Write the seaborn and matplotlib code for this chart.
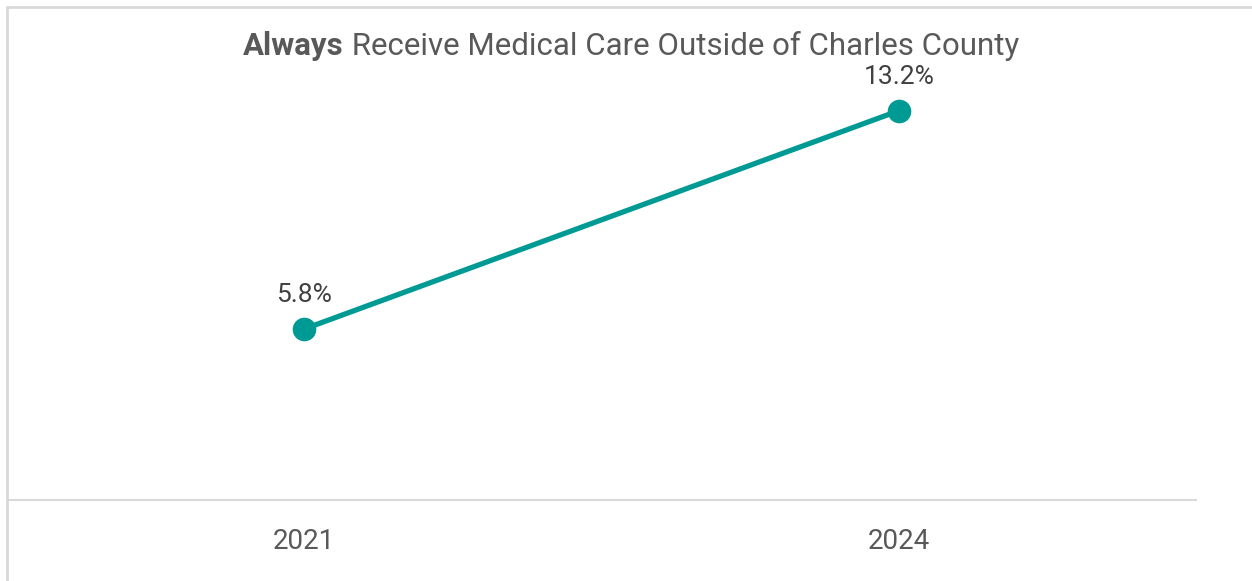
import matplotlib
matplotlib.use("Agg")
import matplotlib.pyplot as plt
from matplotlib.patches import Rectangle
import seaborn as sns
import pandas as pd

years = ["2021", "2024"]
pct_values = [5.8, 13.2]
title_bold = "Always"
title_rest = " Receive Medical Care Outside of Charles County"

TEAL = "#009A94"
DARK = "#404040"
GREY = "#595959"

sns.set_theme(style="white")
plt.rcParams["font.family"] = ["Roboto", "DejaVu Sans"]

df = pd.DataFrame({"year": years, "pct": pct_values})

fig = plt.figure(figsize=(12.52, 5.81), dpi=100)
ax = fig.add_axes([0.0056, 0.1394, 0.9497, 0.7106])

sns.lineplot(data=df, x="year", y="pct", ax=ax, color=TEAL, linewidth=3.8,
             marker="o", markersize=17, markeredgewidth=0, sort=False)

ax.set_xlim(-0.5, 1.5)
ax.set_ylim(0, 14)
ax.set_yticks([])
ax.set_xlabel("")
ax.set_ylabel("")
for side in ["top", "right", "left"]:
    ax.spines[side].set_visible(False)
ax.spines["bottom"].set_color("#D9D9D9")
ax.spines["bottom"].set_linewidth(1.5)
ax.tick_params(axis="x", length=0, pad=20, labelsize=20, labelcolor=GREY)

for i, v in enumerate(pct_values):
    ax.annotate(f"{v}%", xy=(i, v), xytext=(0, 16), textcoords="offset points",
                ha="center", va="bottom", fontsize=19, color=DARK)

# outer frame of the chart area
fig.patches.append(Rectangle((7 / 1252, -0.1), 1.2, (581 - 7) / 581 + 0.1,
                             transform=fig.transFigure, fill=False,
                             edgecolor="#D9D9D9", linewidth=2))

# two-part title: bold lead word followed by regular text, centred as a whole
ty = 1 - 46 / 581
t1 = fig.text(0, ty, title_bold, fontsize=22.5, fontweight="bold", color=GREY,
              ha="left", va="center")
t2 = fig.text(0, ty, title_rest, fontsize=22.5, color=GREY, ha="left", va="center")
fig.canvas.draw()
r = fig.canvas.get_renderer()
w1 = t1.get_window_extent(r).width / fig.bbox.width
w2 = t2.get_window_extent(r).width / fig.bbox.width
x0 = 631 / 1252 - (w1 + w2) / 2
t1.set_x(x0)
t2.set_x(x0 + w1)

fig.savefig("out.png", dpi=100, facecolor="white")
